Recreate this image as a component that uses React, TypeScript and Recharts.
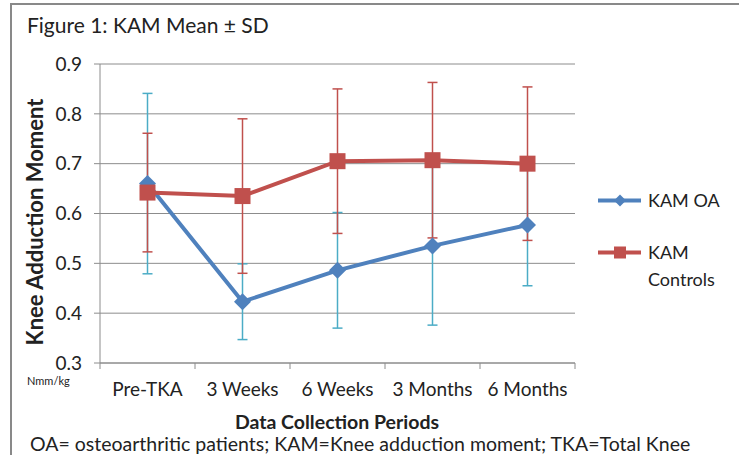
import React from 'react';
import { LineChart, Line, XAxis, YAxis, CartesianGrid, ErrorBar, Legend } from 'recharts';

// data
const periods = ['Pre-TKA', '3 Weeks', '6 Weeks', '3 Months', '6 Months'];
const kamOA = [0.66, 0.423, 0.486, 0.535, 0.577];
const kamOASd = [0.181, 0.076, 0.116, 0.159, 0.122];
const kamControls = [0.642, 0.635, 0.705, 0.707, 0.7];
const kamControlsSd = [0.119, 0.155, 0.145, 0.156, 0.154];
const yTicks = [0.3, 0.4, 0.5, 0.6, 0.7, 0.8, 0.9];
const legendOrder = ['oa', 'ctrl'];

const data = periods.map((period, i) => ({
  period,
  oa: kamOA[i],
  oaSd: kamOASd[i],
  ctrl: kamControls[i],
  ctrlSd: kamControlsSd[i],
}));

const BLUE = '#4F81BD';
const RED = '#C0504D';
const CYAN = '#4BACC6';
const GRID = '#8c8c8c';
const TEXT = '#222';
const FONT = 'Lato, "Liberation Sans", sans-serif';

const Diamond = (props: any) => {
  const { cx, cy } = props;
  if (cx == null || cy == null) return null;
  const r = 8.5;
  return (
    <path
      key={`d-${cx}`}
      d={`M${cx},${cy - r}L${cx + r},${cy}L${cx},${cy + r}L${cx - r},${cy}Z`}
      fill={BLUE}
    />
  );
};

const Square = (props: any) => {
  const { cx, cy } = props;
  if (cx == null || cy == null) return null;
  const s = 8;
  return <rect key={`s-${cx}`} x={cx - s} y={cy - s} width={s * 2} height={s * 2} fill={RED} />;
};

const PeriodTick = (props: any) => {
  const { x, y, payload, index, visibleTicksCount } = props;
  const half = payload.offset ?? 0;
  return (
    <g>
      <line x1={x - half} y1={y} x2={x - half} y2={y + 6} stroke={GRID} />
      {index === visibleTicksCount - 1 && (
        <line x1={x + half} y1={y} x2={x + half} y2={y + 6} stroke={GRID} />
      )}
      <text x={x} y={y + 33} textAnchor="middle" fontSize={19} fill={TEXT} fontFamily={FONT}>
        {payload.value}
      </text>
    </g>
  );
};

const LegendContent = (props: any) => {
  const { payload = [] } = props;
  const items = [...payload].sort(
    (a: any, b: any) => legendOrder.indexOf(a.dataKey) - legendOrder.indexOf(b.dataKey)
  );
  return (
    <div style={{ fontFamily: FONT, fontSize: 18, color: TEXT }}>
      {items.map((entry: any) => (
        <div key={entry.value} style={{ display: 'flex', alignItems: 'flex-start', marginBottom: 25 }}>
          <svg width={52} height={27} style={{ flex: 'none' }}>
            <line x1={2} y1={13.5} x2={45} y2={13.5} stroke={entry.color} strokeWidth={4} />
            {entry.dataKey === 'oa' ? (
              <path d="M24,7.5L30,13.5L24,19.5L18,13.5Z" fill={BLUE} />
            ) : (
              <rect x={18} y={7.5} width={12} height={12} fill={RED} />
            )}
          </svg>
          <span style={{ width: 78, lineHeight: '27px' }}>{entry.value}</span>
        </div>
      ))}
    </div>
  );
};

export default function App() {
  return (
    <div style={{ position: 'absolute', left: 0, top: 0, width: 739, height: 455, overflow: 'hidden', background: '#fff' }}>
      <div
        style={{
          position: 'absolute',
          left: 10,
          top: 3,
          width: 800,
          height: 500,
          borderTop: '2px solid #898989',
          borderLeft: '2px solid #898989',
        }}
      />
      <LineChart
        width={739}
        height={455}
        data={data}
        margin={{ top: 64, right: 164, bottom: 91, left: 40 }}
        style={{ position: 'absolute', left: 0, top: 0 }}
      >
        <CartesianGrid vertical={false} stroke={GRID} />
        <XAxis
          dataKey="period"
          scale="band"
          tick={<PeriodTick />}
          tickSize={0}
          tickMargin={0}
          height={1}
          interval={0}
          axisLine={{ stroke: GRID }}
          tickLine={false}
        />
        <YAxis
          domain={[0.3, 0.9]}
          ticks={yTicks}
          tickFormatter={(v: number) => v.toFixed(1)}
          width={60}
          tickSize={6}
          tickMargin={12}
          axisLine={{ stroke: GRID }}
          tickLine={{ stroke: GRID }}
          tick={{ fontSize: 19, fill: TEXT, fontFamily: FONT }}
        />
        <Legend
          layout="vertical"
          align="center"
          verticalAlign="middle"
          wrapperStyle={{ left: 596, top: 187, width: 140 }}
          content={<LegendContent />}
        />
        <Line
          dataKey="oa"
          name="KAM OA"
          stroke={BLUE}
          strokeWidth={4}
          dot={Diamond}
          activeDot={false}
          isAnimationActive={false}
        >
          <ErrorBar dataKey="oaSd" direction="y" width={5} stroke={CYAN} strokeWidth={1.5} />
        </Line>
        <Line
          dataKey="ctrl"
          name="KAM Controls"
          stroke={RED}
          strokeWidth={4}
          dot={Square}
          activeDot={false}
          isAnimationActive={false}
        >
          <ErrorBar dataKey="ctrlSd" direction="y" width={5} stroke={RED} strokeWidth={1.5} />
        </Line>
      </LineChart>
      <svg
        width={739}
        height={455}
        style={{ position: 'absolute', left: 0, top: 0, pointerEvents: 'none' }}
        fontFamily={FONT}
        fill={TEXT}
      >
        <text x={27} y={33} fontSize={21}>Figure 1: KAM Mean ± SD</text>
        <text transform="translate(43,222) rotate(-90)" textAnchor="middle" fontSize={22} fontWeight="bold">
          Knee Adduction Moment
        </text>
        <text x={27} y={385} fontSize={11}>Nmm/kg</text>
        <text x={337} y={429} textAnchor="middle" fontSize={19.5} fontWeight="bold">
          Data Collection Periods
        </text>
        <text x={30} y={451} fontSize={19.5}>
          OA= osteoarthritic patients; KAM=Knee adduction moment; TKA=Total Knee
        </text>
      </svg>
    </div>
  );
}
